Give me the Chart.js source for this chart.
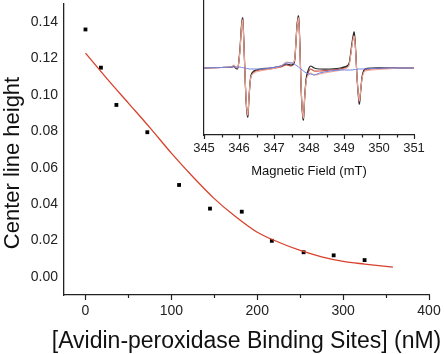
<!DOCTYPE html>
<html>
<head>
<meta charset="utf-8">
<script src="https://cdn.jsdelivr.net/npm/chart.js@4.4.1/dist/chart.umd.min.js"></script>
<style>
  html, body { margin: 0; padding: 0; background: #fff; }
  #wrap { position: relative; width: 444px; height: 354px; }
  #main { position: absolute; left: 0; top: 0; }
  #inset { position: absolute; left: 180px; top: 0; }
</style>
</head>
<body>
<div id="wrap">
  <canvas id="main" width="444" height="354"></canvas>
  <canvas id="inset" width="264" height="185"></canvas>
</div>
<script>
/* measured points */
const bindingSites = [0, 18, 36, 72, 109, 145, 182, 217, 254, 289, 325]
const lineHeight = [0.136, 0.115, 0.0945, 0.0795, 0.0505, 0.0375, 0.0358, 0.0198, 0.0135, 0.0118, 0.0092]

/* red fit curve */
const fitX = [0, 25, 50, 75, 100, 125, 150, 175, 200, 225, 250, 275, 300, 325, 358]
const fitY = [0.123, 0.109, 0.0955, 0.082, 0.068, 0.055, 0.043, 0.033, 0.0245, 0.019, 0.0145, 0.011, 0.0085, 0.007, 0.0053]

const yTicks = [0, 0.02, 0.04, 0.06, 0.08, 0.10, 0.12, 0.14]
const xTicks = [0, 100, 200, 300, 400]

/* inset: EPR spectra */
const field = [345.0, 345.5, 345.8, 345.85, 345.9, 345.95,
  345.98, 346.03, 346.07, 346.105, 346.14, 346.18, 346.215, 346.25, 346.29, 346.34, 346.42,
  346.6, 346.9, 347.2, 347.35, 347.5,
  347.58, 347.62, 347.66, 347.70, 347.735, 347.77, 347.805, 347.84, 347.88, 347.93, 348.0, 348.05,
  348.15, 348.3, 348.6, 348.9,
  349.12, 349.18, 349.24, 349.29, 349.33, 349.37, 349.41, 349.44, 349.48, 349.53, 349.6,
  349.8, 350.2, 350.6, 351.0]
const specBlack = [0, 0.5, 1, 2, 0, -1,
  2, 20, 42, 50, 25, -15, -40, -49, -28, -8, -3,
  -1, 0, 2, 4, 3,
  6, 22, 44, 52, 28, -15, -42, -52, -28, -8, 0, 2,
  0, -1, -1, 0,
  3, 12, 28, 36, 20, -8, -28, -36, -22, -6, -1,
  0, 0, 0, 0]
const specRed = [0, 0.5, 1, 2.5, 0.5, -1,
  2, 19, 41, 49, 24, -15, -39, -48, -27, -8, -4,
  -2, -1, 1, 3, 2,
  5, 21, 43, 51, 27, -15, -41, -51, -27, -9, -3, -1,
  -3, -3, -2, -1,
  2, 11, 26, 33, 18, -8, -26, -34, -21, -7, -2,
  -1, 0, 0, 0]
const specSalmon = [0, 0.5, 1.5, 3, 1, 0,
  2, 18, 40, 48, 24, -14, -38, -47, -27, -9, -5,
  -3, -1, 2, 6, 5,
  7, 22, 42, 50, 26, -14, -40, -50, -28, -11, -6, -5,
  -7, -6, -4, -2,
  1, 10, 25, 32, 18, -8, -26, -33, -21, -8, -3,
  -2, -1, 0, 0]
const specBlue = [0, 0.5, 1, 1, 1, 1,
  1, 1, 0.5, 0.5, 0, 0, -0.5, -0.5, -1, -1, -1,
  -1, 0, 2, 5, 5,
  4, 3, 2, 1, 0, -1, -2, -3, -4, -5, -6, -6,
  -7, -5, -3, -2,
  -2, -2, -2, -1.5, -1.5, -1.5, -1, -1, -1, -1, -1,
  -0.5, 0, 0, 0]
const fieldTicks = [345, 346, 347, 348, 349, 350, 351]

const FONT = "'Liberation Sans', Arial, sans-serif"
const INK = "#222"

const toPoints = (xs, ys) => xs.map((x, i) => ({ x: x, y: ys[i] }))

/* no extra label padding around the plot area */
const noPad = (s) => {
    s.paddingTop = 0
    s.paddingBottom = 0
    s.paddingLeft = 0
    s.paddingRight = 0
}

/* outward tick marks along the bottom axis, major + minor */
const bottomTicks = {
    id: "bottomTicks",
    afterDraw (chart, args, opts) {
        const ctx = chart.ctx
        const sx = chart.scales.x
        const bottom = chart.chartArea.bottom
        ctx.save()
        ctx.strokeStyle = INK
        ctx.lineWidth = 1.2
        for (let v = opts.start; v <= sx.max + 1e-9; v += opts.minor) {
            const px = Math.round(sx.getPixelForValue(v)) + 0.5
            const r = v / opts.major
            const len = Math.abs(r - Math.round(r)) < 1e-6 ? opts.majorLen : opts.minorLen
            ctx.beginPath()
            ctx.moveTo(px, bottom)
            ctx.lineTo(px, bottom + len)
            ctx.stroke()
        }
        ctx.restore()
    }
}

/* axis titles of the main chart */
const mainTitles = {
    id: "mainTitles",
    afterDraw (chart) {
        const ctx = chart.ctx
        const area = chart.chartArea
        ctx.save()
        ctx.fillStyle = "#111"
        ctx.textAlign = "center"
        ctx.textBaseline = "alphabetic"
        ctx.font = "23px " + FONT
        ctx.fillText("[Avidin-peroxidase Binding Sites] (nM)", (area.left + area.right) / 2, 348)
        ctx.translate(18.5, 163)
        ctx.rotate(-Math.PI / 2)
        ctx.font = "22px " + FONT
        ctx.fillText("Center line height", 0, 0)
        ctx.restore()
    }
}

new Chart(document.querySelector("#main"), {
    type: "scatter",
    data: {
        datasets: [{
            label: "fit",
            data: toPoints(fitX, fitY),
            showLine: true,
            borderColor: "#d8412b",
            borderWidth: 1.3,
            pointRadius: 0,
            tension: 0.4,
            cubicInterpolationMode: "monotone"
        }, {
            label: "data",
            data: toPoints(bindingSites, lineHeight),
            pointStyle: "rect",
            pointRadius: 2.7,
            backgroundColor: "#000",
            borderWidth: 0
        }]
    },
    options: {
        responsive: false,
        animation: false,
        layout: { padding: { top: 1, right: 15, left: 0, bottom: 0 } },
        plugins: {
            legend: { display: false },
            tooltip: { enabled: false },
            bottomTicks: { start: 0, minor: 50, major: 100, majorLen: 5, minorLen: 3 }
        },
        scales: {
            x: {
                type: "linear",
                min: -25,
                max: 400,
                grid: { display: false, drawTicks: false },
                border: { display: true, color: INK, width: 1.3 },
                afterBuildTicks: (s) => { s.ticks = xTicks.map(v => ({ value: v })) },
                afterFit: (s) => { s.height = 59; noPad(s) },
                ticks: { color: INK, font: { family: FONT, size: 14 }, padding: 8, maxRotation: 0 }
            },
            y: {
                type: "linear",
                min: -0.01,
                max: 0.15,
                grid: { display: false, drawTicks: false },
                border: { display: true, color: INK, width: 1.3 },
                afterBuildTicks: (s) => { s.ticks = yTicks.map(v => ({ value: v })) },
                afterFit: (s) => { s.width = 64; noPad(s) },
                ticks: { color: INK, font: { family: FONT, size: 14 }, padding: 6, callback: v => v.toFixed(2) }
            }
        }
    },
    plugins: [bottomTicks, mainTitles]
})

const specLine = (ys, color, width) => ({
    data: toPoints(field, ys),
    showLine: true,
    borderColor: color,
    borderWidth: width,
    pointRadius: 0,
    tension: 0.3
})

new Chart(document.querySelector("#inset"), {
    type: "scatter",
    data: {
        datasets: [
            specLine(specBlue, "#7080e0", 1),
            specLine(specSalmon, "#f2a898", 1.1),
            specLine(specBlack, "#2a2a2a", 1.2),
            specLine(specRed, "#d0503c", 1.1)
        ]
    },
    options: {
        responsive: false,
        animation: false,
        layout: { padding: { top: 1, right: 30, left: 24, bottom: 0 } },
        plugins: {
            legend: { display: false },
            tooltip: { enabled: false },
            bottomTicks: { start: 345, minor: 0.5, major: 1, majorLen: 4, minorLen: 2.5 }
        },
        scales: {
            x: {
                type: "linear",
                min: 345,
                max: 351,
                grid: { display: false, drawTicks: false },
                border: { display: true, color: INK, width: 1.2 },
                afterBuildTicks: (s) => { s.ticks = fieldTicks.map(v => ({ value: v })) },
                afterFit: (s) => { s.height = 50; noPad(s) },
                ticks: { color: INK, font: { family: FONT, size: 13 }, padding: 6, maxRotation: 0 },
                title: { display: true, text: "Magnetic Field (mT)", color: "#111", font: { family: FONT, size: 13 }, padding: 6 }
            },
            y: {
                type: "linear",
                min: -67,
                max: 67,
                grid: { display: false, drawTicks: false },
                border: { display: true, color: INK, width: 1.2 },
                afterFit: (s) => { s.width = 0; noPad(s) },
                ticks: { display: false }
            }
        }
    },
    plugins: [bottomTicks]
})
</script>
</body>
</html>
